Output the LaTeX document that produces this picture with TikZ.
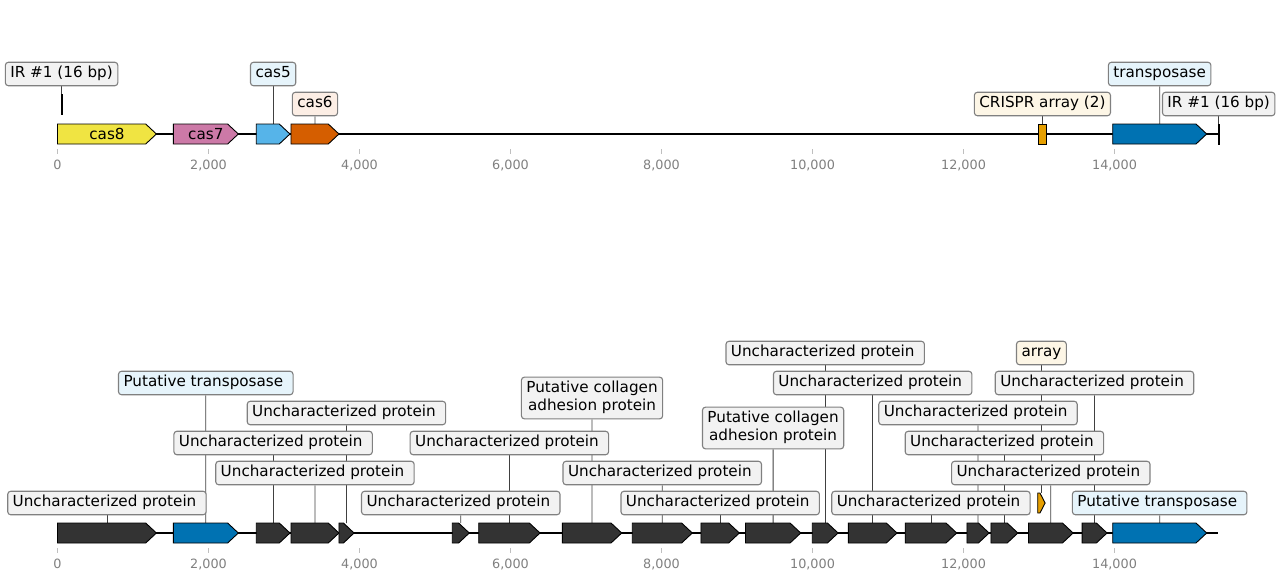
\documentclass[tikz,border=0pt]{standalone}
\usepackage{fontspec}
\setmainfont{DejaVu Sans}
\usetikzlibrary{backgrounds}

\definecolor{darkfeat}{HTML}{333333}
\definecolor{casyellow}{HTML}{F0E442}
\definecolor{caspink}{HTML}{CC79A7}
\definecolor{casblue}{HTML}{56B4E9}
\definecolor{casred}{HTML}{D55E00}
\definecolor{arrayorange}{HTML}{E69F00}
\definecolor{tnpblue}{HTML}{0072B2}
\definecolor{boxgrey}{HTML}{F2F2F2}
\definecolor{boxblue}{HTML}{E6F4FB}
\definecolor{boxred}{HTML}{FCEEE5}
\definecolor{boxcream}{HTML}{FDF6E6}
\definecolor{edgegrey}{HTML}{808080}

% gene arrow: name, start, end (bp), fill, centre line (px)
\newcommand{\gene}[5]{%
  \pgfmathsetmacro{\genehead}{min(141.7,0.7*(#3-#2))}
  \draw[feat, fill=#4] (#2,#5-10) -- ({#3-\genehead},#5-10) -- (#3,#5) -- ({#3-\genehead},#5+10) -- (#2,#5+10) -- cycle;
  \coordinate (#1) at ({#2/2+#3/2},#5-10);
}
% feature without strand
\newcommand{\site}[5]{%
  \draw[feat, fill=#4] (#2,#5-10) rectangle (#3,#5+10);
  \coordinate (#1) at ({#2/2+#3/2},#5-10);
}

\begin{document}
\begin{tikzpicture}[x=0.0755pt, y=-1pt, xshift=57.5pt,
    feat/.style={draw=black, line width=0.9pt},
    lab/.style={draw=edgegrey, fill=boxgrey, line width=1.1pt, rounded corners=3pt, inner xsep=5pt, inner ysep=4.5pt,
                text height=11pt, text depth=3.5pt, align=center, font=\fontsize{15.2}{18.2}\selectfont},
    conn/.style={draw=black!75, line width=0.8pt},
    tickmark/.style={draw=black!25, line width=0.8pt},
    ticklab/.style={text=edgegrey, inner sep=0pt, font=\fontsize{12.8}{15}\selectfont}]

    \useasboundingbox (-57.5pt,0pt) rectangle (1222.5pt,-582pt);

    % upper map
    \draw[line width=1.5pt] (0,134) -- (15380,134);
    \gene{G1}{0}{1310}{casyellow}{134}
    \gene{G2}{1534}{2395}{caspink}{134}
    \gene{G3}{2633}{3079}{casblue}{134}
    \gene{G4}{3093}{3728}{casred}{134}
    \site{A1}{12990}{13100}{arrayorange}{134}
    \gene{G5}{13976}{15221}{tnpblue}{134}
    \site{R1}{46}{62}{black}{104}
    \site{R2}{15372}{15388}{black}{134}
    \node[anchor=base, font=\fontsize{15.2}{18.2}\selectfont] at (655,139.5) (T1) {cas8};
    \node[anchor=base, font=\fontsize{15.2}{18.2}\selectfont] at (1964,139.5) (T2) {cas7};

    \node[lab] at (54,74) (L1) {IR \#1 (16 bp)};
    \node[lab, fill=boxblue] at (2856,74) (L2) {cas5};
    \node[lab, fill=boxred] at (3410,104) (L3) {cas6};
    \node[lab, fill=boxcream] at (13045,104) (L4) {CRISPR array (2)};
    \node[lab, fill=boxblue] at (14598,74) (L5) {transposase};
    \node[lab] at (15380,104) (L6) {IR \#1 (16 bp)};

    \foreach \t/\s in {0/0,2000/{2,000},4000/{4,000},6000/{6,000},8000/{8,000},10000/{10,000},12000/{12,000},14000/{14,000}}{
        \draw[tickmark] (\t,149) -- (\t,154);
        \node[ticklab] at (\t,165) (ta\t) {\s};
    }

    % lower map
    \draw[line width=1.5pt] (0,533) -- (15370,533);
    \gene{B1}{0}{1310}{darkfeat}{533}
    \gene{B2}{1534}{2395}{tnpblue}{533}
    \gene{B3}{2633}{3079}{darkfeat}{533}
    \gene{B4}{3093}{3728}{darkfeat}{533}
    \gene{B5}{3728}{3927}{darkfeat}{533}
    \gene{B6}{5229}{5454}{darkfeat}{533}
    \gene{B7}{5579}{6391}{darkfeat}{533}
    \gene{B8}{6686}{7473}{darkfeat}{533}
    \gene{B9}{7613}{8408}{darkfeat}{533}
    \gene{B10}{8523}{9031}{darkfeat}{533}
    \gene{B11}{9113}{9844}{darkfeat}{533}
    \gene{B12}{9997}{10339}{darkfeat}{533}
    \gene{B13}{10475}{11119}{darkfeat}{533}
    \gene{B14}{11228}{11910}{darkfeat}{533}
    \gene{B15}{12046}{12339}{darkfeat}{533}
    \gene{B16}{12364}{12720}{darkfeat}{533}
    \gene{B17}{12861}{13452}{darkfeat}{533}
    \gene{B18}{13570}{13901}{darkfeat}{533}
    \gene{B19}{13976}{15221}{tnpblue}{533}
    \gene{A2}{12983}{13081}{arrayorange}{503}

    \node[lab] at (655,503) (U1) {Uncharacterized protein\ };
    \node[lab, fill=boxblue] at (1964,383) (U2) {Putative transposase\ };
    \node[lab] at (2856,443) (U3) {Uncharacterized protein\ };
    \node[lab] at (3410,473) (U4) {Uncharacterized protein\ };
    \node[lab] at (3827,413) (U5) {Uncharacterized protein\ };
    \node[lab] at (5341,503) (U6) {Uncharacterized protein\ };
    \node[lab] at (5985,443) (U7) {Uncharacterized protein\ };
    \node[lab, text height=29.2pt] at (7080,398) (U8) {Putative collagen\\adhesion protein};
    \node[lab] at (8010,473) (U9) {Uncharacterized protein\ };
    \node[lab] at (8777,503) (U10) {Uncharacterized protein\ };
    \node[lab, text height=29.2pt] at (9478,428) (U11) {Putative collagen\\adhesion protein};
    \node[lab] at (10168,353) (U12) {Uncharacterized protein\ };
    \node[lab] at (10797,383) (U13) {Uncharacterized protein\ };
    \node[lab] at (11569,503) (U14) {Uncharacterized protein\ };
    \node[lab] at (12192,413) (U15) {Uncharacterized protein\ };
    \node[lab] at (12542,443) (U16) {Uncharacterized protein\ };
    \node[lab] at (13156,473) (U17) {Uncharacterized protein\ };
    \node[lab] at (13735,383) (U18) {Uncharacterized protein\ };
    \node[lab, fill=boxblue] at (14598,503) (U19) {Putative transposase\ };
    \node[lab, fill=boxcream] at (13032,353) (U20) {array};

    \foreach \t/\s in {0/0,2000/{2,000},4000/{4,000},6000/{6,000},8000/{8,000},10000/{10,000},12000/{12,000},14000/{14,000}}{
        \draw[tickmark] (\t,548) -- (\t,553);
        \node[ticklab] at (\t,564) (tb\t) {\s};
    }

    % leader lines behind the labels
    \begin{pgfonlayer}{background}
    \draw[conn] (L1.south) -- (R1);
    \draw[conn] (L2.south) -- (G3);
    \draw[conn] (L3.south) -- (G4);
    \draw[conn] (L4.south) -- (A1);
    \draw[conn] (L5.south) -- (G5);
    \draw[conn] (L6.south) -- (R2);
    \draw[conn] (U1.south) -- (B1);
    \draw[conn] (U2.south) -- (B2);
    \draw[conn] (U3.south) -- (B3);
    \draw[conn] (U4.south) -- (B4);
    \draw[conn] (U5.south) -- (B5);
    \draw[conn] (U6.south) -- (B6);
    \draw[conn] (U7.south) -- (B7);
    \draw[conn] (U8.south) -- (B8);
    \draw[conn] (U9.south) -- (B9);
    \draw[conn] (U10.south) -- (B10);
    \draw[conn] (U11.south) -- (B11);
    \draw[conn] (U12.south) -- (B12);
    \draw[conn] (U13.south) -- (B13);
    \draw[conn] (U14.south) -- (B14);
    \draw[conn] (U15.south) -- (B15);
    \draw[conn] (U16.south) -- (B16);
    \draw[conn] (U17.south) -- (B17);
    \draw[conn] (U18.south) -- (B18);
    \draw[conn] (U19.south) -- (B19);
    \draw[conn] (U20.south) -- (A2);
    \end{pgfonlayer}

\end{tikzpicture}
\end{document}
